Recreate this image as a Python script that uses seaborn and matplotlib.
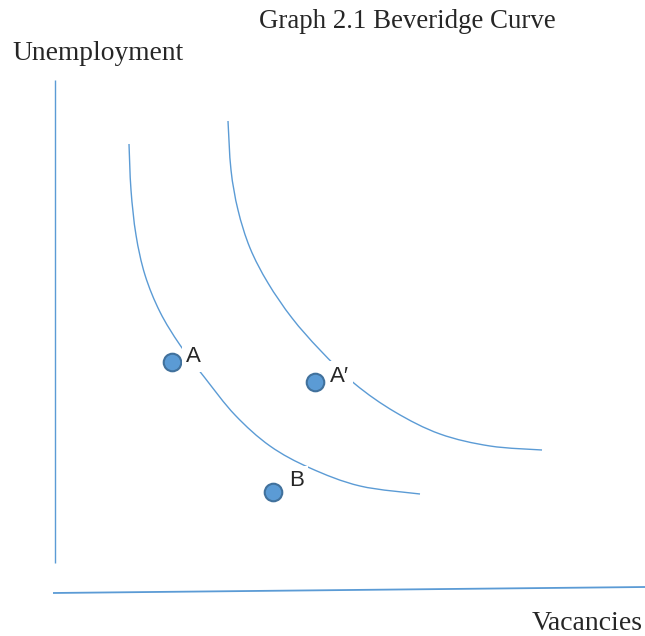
import matplotlib
matplotlib.use("Agg")
import matplotlib.pyplot as plt
from matplotlib.path import Path
from matplotlib.patches import PathPatch
import seaborn as sns
import pandas as pd

# Beveridge curve 1 (original)
curve1_vac = [74, 76, 81, 90, 105, 125, 150, 180, 215, 255, 305, 365]
curve1_unemp = [446, 400, 355, 315, 278, 245, 212, 175, 144, 122, 104, 96]

# Beveridge curve 2 (shifted outward)
curve2_vac = [173, 176, 183, 195, 213, 237, 265, 300, 340, 385, 435, 487]
curve2_unemp = [469, 420, 380, 342, 307, 272, 240, 206, 178, 156, 144, 140]

# Points
point_labels = ["A", "A\u2032", "B"]
point_vac = [117, 260, 218]
point_unemp = [228, 208, 98]

# Axis lines
yaxis_vac = [0, 0]
yaxis_unemp = [510, 27]
xaxis_vac = [-2, 590]
xaxis_unemp = [-3, 3]

title = "Graph 2.1 Beveridge Curve"
ylabel = "Unemployment"
xlabel = "Vacancies"

sns.set_style("white")
plt.rcParams['font.family'] = ['Liberation Serif', 'DejaVu Serif']

W, H = 645, 636
fig = plt.figure(figsize=(W / 100, H / 100), dpi=100)
ax = fig.add_axes([0, 0, 1, 1])
ax.set_xlim(-55, 590)
ax.set_ylim(-46, 590)
ax.axis("off")

blue = "#5B9BD5"

ax.plot(yaxis_vac, yaxis_unemp, color=blue, lw=1.0, solid_capstyle="butt")
ax.plot(xaxis_vac, xaxis_unemp, color=blue, lw=1.3, solid_capstyle="butt")


def smooth_path(xs, ys):
    pts = list(zip(xs, ys))
    n = len(pts)
    verts = [pts[0]]
    codes = [Path.MOVETO]
    for i in range(n - 1):
        p0 = pts[i - 1] if i > 0 else pts[i]
        p1 = pts[i]
        p2 = pts[i + 1]
        p3 = pts[i + 2] if i + 2 < n else pts[i + 1]
        c1 = (p1[0] + (p2[0] - p0[0]) / 6, p1[1] + (p2[1] - p0[1]) / 6)
        c2 = (p2[0] - (p3[0] - p1[0]) / 6, p2[1] - (p3[1] - p1[1]) / 6)
        verts += [c1, c2, p2]
        codes += [Path.CURVE4] * 3
    return Path(verts, codes)


for xs, ys in [(curve1_vac, curve1_unemp), (curve2_vac, curve2_unemp)]:
    ax.add_patch(PathPatch(smooth_path(xs, ys), fc="none", ec=blue, lw=1.0, zorder=2))

dfp = pd.DataFrame({"v": point_vac, "u": point_unemp, "lab": point_labels})
sns.scatterplot(data=dfp, x="v", y="u", s=160, color=blue, edgecolor="#41719C",
                linewidth=1.5, ax=ax, zorder=5, legend=False)

label_dx = [14, 15, 16]
label_dy = [5, 6, 11]
for lab, v, u, dx, dy in zip(point_labels, point_vac, point_unemp, label_dx, label_dy):
    ax.text(v + dx, u + dy, lab, fontsize=16, family=['Liberation Sans', 'DejaVu Sans'],
            ha="left", va="center", zorder=6,
            bbox=dict(boxstyle="square,pad=0.2", fc="white", ec="none"))

ax.set_xlabel("")
ax.set_ylabel("")

fig.text(407 / W, 1 - 22 / H, title, fontsize=19.4, ha="center", va="center")
fig.text(12 / W, 1 - 53 / H, ylabel, fontsize=19.8, ha="left", va="center")
fig.text(643 / W, 1 - 624 / H, xlabel, fontsize=20, ha="right", va="center")

fig.savefig("out.png", dpi=100)
